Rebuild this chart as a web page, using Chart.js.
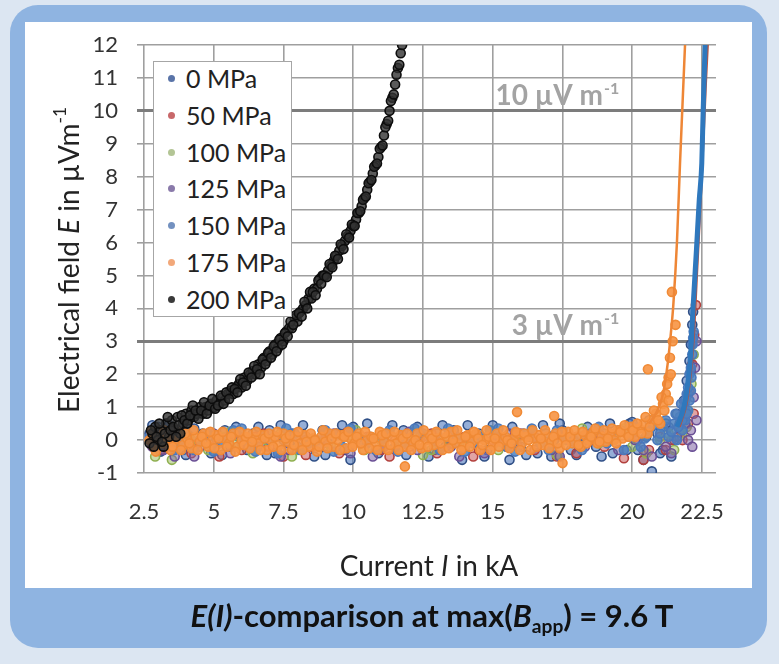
<!DOCTYPE html>
<html><head><meta charset="utf-8">
<script src="https://cdn.jsdelivr.net/npm/chart.js@4.4.1/dist/chart.umd.min.js"></script>
<style>
html,body{margin:0;padding:0;}
body{width:779px;height:664px;background:#dce6f2;position:relative;overflow:hidden;font-family:Lato,'Open Sans',sans-serif;}
#frame{position:absolute;left:10px;top:5px;width:757px;height:643px;background:#8fb4e1;border-radius:28px;}
#panel{position:absolute;left:25px;top:22px;width:727px;height:566px;background:#fff;}
#chart{position:absolute;left:0;top:0;}
#ytitle{position:absolute;left:68px;top:260px;transform:translate(-50%,-50%) rotate(-90deg);white-space:nowrap;font-size:28px;color:#222;}
#xtitle{position:absolute;left:429px;top:565px;transform:translate(-50%,-50%);white-space:nowrap;font-size:28px;color:#222;}
#caption{position:absolute;left:432px;top:615px;transform:translate(-50%,-50%);white-space:nowrap;font-size:31px;font-weight:bold;color:#111;}
#legend{position:absolute;left:153px;top:61px;width:139px;height:256px;background:#fff;border:1px solid #a6a6a6;box-sizing:border-box;}
.item{position:absolute;left:0;height:30px;line-height:30px;font-size:25px;color:#222;white-space:nowrap;}
.dot{position:absolute;left:14px;top:12px;width:7px;height:7px;border-radius:50%;}
.lbl{position:absolute;left:32px;top:0;}
sup,sub{font-size:0.62em;line-height:0;}
sup{vertical-align:0.75em;}
sub{vertical-align:-0.3em;}
</style></head>
<body>
<div id="frame"></div>
<div id="panel"></div>
<canvas id="chart" width="779" height="664"></canvas>
<div id="legend"></div>
<div id="ytitle">Electrical field <i>E</i> in µVm<sup>-1</sup></div>
<div id="xtitle">Current <i>I</i> in kA</div>
<div id="caption"><i>E(I)</i>-comparison at max(<i>B</i><sub>app</sub>) = 9.6 T</div>
<script>
// ---- data ----
const seriesNames = ['0 MPa','50 MPa','100 MPa','125 MPa','150 MPa','175 MPa','200 MPa'];
const xTicks = [2.5,5,7.5,10,12.5,15,17.5,20,22.5];
const refLevels = [10, 3];
const refLabels = ['10 µV m', '3 µV m'];

const s0MPa = [[2.7,0.2],[2.9,-0.1],[3.0,0.4],[3.2,0.1],[3.3,0.5],[3.5,-0.2],[3.7,0.3],[3.9,-0.3],[4.1,0.1],[4.4,-0.1],[4.6,0.2],[4.9,-0.4],[5.1,0.0],[5.4,0.3],[5.6,-0.2],[5.9,0.1],[6.2,-0.3],[6.4,0.2],[6.7,-0.1],[7.0,0.3],[7.2,-0.4],[7.5,0.0],[7.8,0.2],[8.0,-0.2],[8.3,0.1],[8.6,-0.5],[8.9,0.3],[9.1,-0.1],[9.4,0.2],[9.7,-0.3],[10.0,0.4],[10.3,-0.1],[10.6,0.1],[10.9,-0.4],[11.2,0.2],[11.5,-0.2],[11.8,0.3],[12.1,-0.1],[12.4,0.1],[12.7,-0.5],[13.0,0.2],[13.3,-0.2],[13.6,0.3],[13.9,-0.6],[14.2,0.0],[14.5,0.2],[14.8,-0.3],[15.1,0.1],[15.4,-0.1],[15.7,0.4],[16.0,-0.2],[16.3,0.1],[16.6,-0.4],[16.9,0.2],[17.2,0.0],[17.5,0.3],[17.8,-0.3],[18.1,0.1],[18.4,0.4],[18.7,-0.2],[19.0,0.2],[19.3,-0.4],[19.6,0.3],[19.9,0.5],[20.2,-0.3],[20.5,0.1],[20.7,-0.95],[20.9,0.2],[21.1,-0.3],[21.3,0.4],[21.5,0.0],[21.7,0.5],[21.85,1.2],[21.95,1.8],[22.05,2.4],[22.1,2.9],[22.15,3.5],[22.18,3.9],
  [2.8,0.45],[3.1,-0.35],[3.4,0.45],[3.6,0.15],[4.0,-0.45],[4.3,0.35],[4.8,0.1],[5.3,-0.45],[5.8,0.4],[6.0,-0.1],[6.6,0.4],[6.9,-0.45],[7.4,0.45],[7.7,-0.1],[8.2,0.45],[8.5,0.0],[9.0,-0.45],[9.6,0.45],[9.9,-0.6],[10.5,0.5],[11.0,0.0],[11.4,0.45],[11.9,-0.45],[12.3,0.4],[12.9,-0.3],[13.2,0.45],[13.8,-0.1],[14.1,0.45],[14.7,-0.5],[15.0,0.45],[15.6,-0.6],[15.9,0.1],[16.2,-0.45],[16.8,0.45],[17.1,-0.5],[17.4,0.5],[18.0,-0.45],[18.3,0.0],[18.9,-0.5],[19.2,0.5],[19.8,-0.3],[20.0,0.55],[20.4,-0.6],[20.6,0.6],[21.0,-0.4],[21.2,0.5],[21.4,-0.5],[21.6,0.8],[21.75,0.3],[21.9,0.9],[22.0,1.4],[22.1,2.1]];
const s50MPa = [[2.8,0.0],[3.1,-0.3],[3.4,0.2],[3.8,-0.1],[4.2,-0.4],[4.6,0.1],[5.0,-0.2],[5.5,0.0],[6.0,-0.3],[6.5,0.1],[7.0,-0.2],[7.5,-0.5],[8.0,0.1],[8.5,-0.2],[9.0,0.0],[9.5,-0.4],[10.0,-0.1],[10.5,0.1],[11.0,-0.3],[11.5,0.0],[12.0,-0.2],[12.5,0.1],[13.0,-0.4],[13.5,-0.1],[14.0,0.1],[14.5,-0.3],[15.0,0.0],[15.5,-0.2],[16.0,0.2],[16.5,-0.3],[17.0,-0.1],[17.5,0.1],[18.0,-0.4],[18.5,0.0],[19.0,-0.2],[19.7,-0.55],[20.2,0.0],[20.6,-0.3],[21.0,0.1],[21.4,0.0],[21.7,0.3],[21.9,0.8],[22.05,1.5],[22.15,2.3],[22.22,3.2],[22.28,4.1],
  [3.6,0.3],[5.2,-0.5],[6.8,0.2],[8.3,-0.45],[9.8,0.25],[11.3,-0.5],[12.8,0.2],[14.3,-0.5],[15.8,0.2],[17.3,-0.5],[18.8,0.2],[20.4,-0.6],[21.2,-0.3],[21.8,0.0],[22.0,0.5],[22.2,0.8]];
const s100MPa = [[2.9,-0.5],[3.3,0.1],[3.7,-0.2],[4.2,0.0],[4.8,-0.3],[5.3,0.1],[5.8,-0.1],[6.4,-0.4],[6.9,0.0],[7.4,0.2],[8.0,-0.3],[8.6,0.0],[9.2,-0.2],[9.8,0.1],[10.4,-0.3],[11.0,0.0],[11.6,-0.1],[12.2,0.2],[12.8,-0.3],[13.4,0.0],[14.0,-0.2],[14.6,0.1],[15.2,-0.3],[15.8,0.0],[16.4,0.3],[17.0,-0.2],[17.6,0.0],[18.2,0.35],[18.8,-0.1],[19.4,0.1],[20.0,-0.2],[20.5,-0.4],[21.0,0.0],[21.5,-0.3],[21.8,0.2],[22.0,0.9],[22.12,1.7],[22.2,2.6],
  [3.5,-0.6],[5.6,0.25],[7.8,-0.5],[10.1,0.3],[12.5,-0.45],[14.9,0.3],[17.3,-0.45],[19.7,0.35],[21.3,0.2],[21.95,0.4]];
const s125MPa = [[2.8,-0.2],[3.2,-0.3],[3.6,-0.5],[4.0,0.1],[4.5,-0.2],[5.0,0.2],[5.6,-0.4],[6.1,0.0],[6.6,-0.2],[7.2,0.1],[7.7,-0.3],[8.3,0.0],[8.8,-0.2],[9.3,0.2],[9.9,-0.4],[10.5,0.0],[11.1,-0.2],[11.7,0.1],[12.3,-0.3],[12.9,0.0],[13.5,-0.2],[14.1,0.1],[14.7,-0.4],[15.3,0.0],[15.9,-0.2],[16.5,0.1],[17.1,-0.3],[17.7,0.0],[18.3,-0.2],[18.9,0.1],[19.5,-0.3],[20.1,0.0],[20.7,-0.5],[21.2,-0.2],[21.6,0.1],[21.9,0.5],[22.1,0.3],[22.2,1.3],[22.25,2.2],[22.3,3.0],
  [3.0,0.0],[4.3,-0.5],[5.8,0.2],[7.4,-0.5],[9.0,0.2],[10.7,-0.5],[12.0,0.25],[13.8,-0.5],[15.6,0.2],[17.4,-0.5],[19.2,0.2],[20.4,-0.3],[21.4,-0.4],[22.0,0.0],[22.15,-0.2],[22.3,0.6]];
const s150MPa = [[2.7,0.1],[3.0,-0.2],[3.4,0.3],[3.8,0.0],[4.3,-0.3],[4.8,0.2],[5.2,-0.1],[5.7,0.3],[6.3,-0.2],[6.8,0.1],[7.3,-0.4],[7.9,0.2],[8.4,-0.1],[9.0,0.3],[9.6,-0.2],[10.2,0.1],[10.8,-0.3],[11.3,0.3],[11.9,-0.1],[12.5,0.2],[13.1,-0.3],[13.7,0.1],[14.3,-0.1],[14.9,0.3],[15.5,-0.2],[16.1,0.2],[16.7,-0.1],[17.3,0.3],[17.9,0.0],[18.5,0.2],[19.1,-0.1],[19.5,0.3],[19.9,0.1],[20.3,-0.2],[20.6,0.3],[20.9,0.0],[21.1,0.4],[21.3,0.1],[21.5,0.5],[21.6,0.0],[21.7,0.7],[21.8,0.3],[21.85,1.0],[21.9,0.6],[21.95,1.4],[22.0,0.9],[22.05,2.0],[22.1,1.5],[22.15,2.6],[22.2,3.3],
  [3.2,0.0],[3.6,-0.3],[4.0,0.35],[4.5,0.0],[5.0,-0.35],[5.5,0.1],[6.0,0.35],[6.5,-0.35],[7.0,0.0],[7.6,0.35],[8.1,-0.3],[8.7,0.0],[9.3,-0.35],[9.9,0.35],[10.5,-0.1],[11.1,0.05],[11.6,-0.35],[12.2,0.35],[12.8,0.0],[13.4,0.35],[14.0,-0.35],[14.6,0.1],[15.2,0.35],[15.8,-0.35],[16.4,0.35],[17.0,-0.3],[17.6,0.1],[18.2,-0.3],[18.8,0.4],[19.3,0.0],[19.7,-0.3],[20.1,0.4],[20.45,0.05],[20.75,0.45],[21.0,0.2],[21.2,0.6],[21.4,0.25],[21.55,0.8],[21.65,0.4],[21.75,1.1],[21.8,0.6],[21.9,1.2],[21.95,0.8],[22.0,1.6],[22.05,1.2],[22.1,2.2],[22.12,1.9],[22.16,2.9],[22.18,3.1]];
const s175MPa = [[2.7,0.0],[2.85,-0.2],[3.0,0.1],[3.15,-0.1],[3.3,0.2],[3.45,-0.3],[3.6,0.0],[3.75,0.15],[3.9,-0.15],[4.05,0.05],[4.2,-0.25],[4.35,0.1],[4.5,-0.05],[4.65,0.2],[4.8,-0.2],[4.95,0.0],[5.1,0.15],[5.25,-0.3],[5.4,0.05],[5.55,-0.1],[5.7,0.2],[5.85,-0.2],[6.0,0.0],[6.15,0.1],[6.3,-0.25],[6.45,0.05],[6.6,-0.1],[6.75,0.15],[6.9,-0.3],[7.05,0.0],[7.2,0.1],[7.35,-0.15],[7.5,0.2],[7.65,-0.05],[7.8,-0.3],[7.95,0.1],[8.1,-0.1],[8.25,0.15],[8.4,-0.2],[8.55,0.05],[8.7,-0.35],[8.85,0.1],[9.0,-0.05],[9.15,0.2],[9.3,-0.2],[9.45,0.0],[9.6,0.15],[9.75,-0.25],[9.9,0.05],[10.05,-0.1],[10.2,0.2],[10.35,-0.3],[10.5,0.0],[10.65,0.1],[10.8,-0.15],[10.95,0.25],[11.1,-0.05],[11.25,-0.3],[11.4,0.1],[11.55,-0.1],[11.7,0.15],[11.85,-0.2],[11.85,-0.8],[12.0,0.05],[12.15,-0.1],[12.3,0.2],[12.45,-0.25],[12.6,0.0],[12.75,0.15],[12.9,-0.15],[13.05,0.05],[13.2,-0.3],[13.35,0.1],[13.5,0.25],[13.65,-0.1],[13.8,0.05],[13.95,-0.2],[14.1,0.15],[14.25,-0.05],[14.4,0.2],[14.55,-0.3],[14.7,0.0],[14.85,0.1],[15.0,-0.15],[15.15,0.2],[15.3,-0.05],[15.45,0.1],[15.6,-0.25],[15.75,0.05],[15.87,0.85],[15.9,0.2],[16.05,-0.1],[16.2,0.1],[16.35,-0.3],[16.5,0.05],[16.65,0.15],[16.8,-0.15],[16.95,0.1],[17.1,-0.05],[17.2,0.73],[17.25,0.2],[17.4,-0.25],[17.5,-0.7],[17.55,0.05],[17.7,0.25],[17.85,-0.1],[18.0,0.1],[18.15,-0.2],[18.3,0.15],[18.45,0.0],[18.6,0.25],[18.75,-0.1],[18.9,0.1],[19.05,-0.05],[19.2,0.2],[19.35,0.0],[19.5,0.3],[19.65,0.05],[19.8,0.2],[19.95,0.4],[20.1,0.1],[20.25,0.35],[20.4,0.5],[20.55,0.2],[20.56,2.15],[20.7,0.6],[20.85,0.8],[21.0,0.5],[21.1,1.1],[21.2,1.4],[21.3,1.9],[21.35,2.5],[21.45,3.0],[21.55,3.5],[21.42,4.5],
  [2.775,0.25],[2.925,-0.35],[3.075,-0.05],[3.225,0.3],[3.375,0.05],[3.525,-0.2],[3.675,0.25],[3.825,-0.3],[3.975,0.2],[4.125,-0.1],[4.275,0.3],[4.425,-0.3],[4.575,0.1],[4.725,-0.1],[4.875,0.25],[5.025,-0.25],[5.175,0.05],[5.325,0.25],[5.475,-0.2],[5.625,0.1],[5.775,-0.35],[5.925,0.25],[6.075,-0.15],[6.225,0.2],[6.375,-0.05],[6.525,0.25],[6.675,-0.3],[6.825,0.05],[6.975,0.2],[7.125,-0.2],[7.275,0.25],[7.425,-0.3],[7.575,0.05],[7.725,0.15],[7.875,-0.15],[8.025,0.25],[8.175,-0.3],[8.325,-0.05],[8.475,0.2],[8.625,0.0],[8.775,-0.2],[8.925,0.3],[9.075,-0.25],[9.225,0.05],[9.375,0.2],[9.525,-0.3],[9.675,0.1],[9.825,0.25],[9.975,-0.2],[10.125,0.1],[10.275,-0.1],[10.425,0.25],[10.575,-0.25],[10.725,0.05],[10.875,-0.3],[11.025,0.15],[11.175,0.2],[11.325,-0.15],[11.475,0.25],[11.625,-0.3],[11.775,0.05],[11.925,0.2],[12.075,-0.3],[12.225,0.0],[12.375,-0.15],[12.525,0.3],[12.675,-0.2],[12.825,0.05],[12.975,0.25],[13.125,-0.1],[13.275,0.2],[13.425,-0.25],[13.575,0.0],[13.725,0.3],[13.875,-0.3],[14.025,0.1],[14.175,-0.2],[14.325,0.25],[14.475,0.05],[14.625,-0.15],[14.775,0.3],[14.925,-0.3],[15.075,0.05],[15.225,-0.2],[15.375,0.3],[15.525,0.0],[15.675,-0.1],[15.825,0.25],[15.975,-0.3],[16.125,0.2],[16.275,0.0],[16.425,0.3],[16.575,-0.2],[16.725,0.05],[16.875,0.3],[17.025,-0.25],[17.175,0.1],[17.325,-0.1],[17.475,0.25],[17.625,-0.15],[17.775,0.1],[17.925,0.3],[18.075,-0.15],[18.225,0.25],[18.375,-0.1],[18.525,0.1],[18.675,0.35],[18.825,-0.05],[18.975,0.3],[19.125,0.05],[19.275,0.35],[19.425,-0.1],[19.575,0.25],[19.725,0.45],[19.875,0.1],[20.025,0.3],[20.175,0.5],[20.325,0.2],[20.475,0.7],[20.625,0.4],[20.775,0.9],[20.925,0.6],[21.05,1.3],[21.15,0.9],[21.25,1.7],[21.3,1.2],[21.38,2.0]];
const s200MPa = [[2.7,-0.1],[2.8,0.2],[2.9,0.4],[3.0,0.0],[3.1,0.3],[3.2,-0.2],[3.3,0.5],[3.4,0.1],[3.5,0.6],[3.6,0.3],[3.7,0.7],[3.8,0.2],[3.9,0.5],[4.0,0.8],[4.1,0.6],[4.2,0.9],[4.3,0.7],[4.4,0.8],[4.5,1.0],[4.6,0.8],[4.7,1.0],[4.8,0.9],[4.9,1.1],[5.0,1.0],[5.1,1.2],[5.2,1.1],[5.3,1.3],[5.4,1.2],[5.5,1.4],[5.6,1.5],[5.7,1.4],[5.8,1.6],[5.9,1.7],[6.0,1.6],[6.1,1.9],[6.2,1.8],[6.3,2.0],[6.4,2.1],[6.5,2.0],[6.6,2.3],[6.7,2.2],[6.8,2.5],[6.9,2.4],[7.0,2.7],[7.1,2.6],[7.2,2.9],[7.3,2.8],[7.4,3.1],[7.5,3.0],[7.6,3.3],[7.7,3.4],[7.8,3.4],[7.9,3.7],[8.0,3.6],[8.1,3.9],[8.2,4.0],[8.3,4.1],[8.4,4.3],[8.5,4.3],[8.6,4.6],[8.7,4.6],[8.8,4.9],[8.9,5.0],[9.0,5.0],[9.1,5.15],[9.2,5.3],[9.3,5.45],[9.4,5.6],[9.5,5.75],[9.6,5.9],[9.7,6.05],[9.8,6.2],[9.9,6.35],[10.0,6.5],[10.1,6.7],[10.2,6.9],[10.3,7.1],[10.4,7.35],[10.5,7.6],[10.6,7.85],[10.7,8.1],[10.8,8.35],[10.9,8.6],[11.0,8.9],[11.1,9.25],[11.2,9.6],[11.3,10.0],[11.4,10.4],[11.5,10.8],[11.6,11.3],[11.7,11.75],[11.75,12.0],
  [2.75,0.3],[2.85,-0.2],[2.95,0.1],[3.05,0.5],[3.15,-0.05],[3.25,0.2],[3.35,0.7],[3.45,0.3],[3.55,0.4],[3.65,0.1],[3.75,0.45],[3.85,0.75],[3.95,0.6],[4.05,0.5],[4.15,0.75],[4.25,1.05],[4.35,0.9],[4.45,0.65],[4.55,0.9],[4.65,1.15],[4.75,0.8],[4.85,1.05],[4.95,1.25],[5.05,0.95],[5.15,1.05],[5.25,1.35],[5.35,1.1],[5.45,1.45],[5.55,1.25],[5.65,1.6],[5.75,1.55],[5.85,1.45],[5.95,1.85],[6.05,1.75],[6.15,1.65],[6.25,2.05],[6.35,1.9],[6.45,2.25],[6.55,2.15],[6.65,2.0],[6.75,2.45],[6.85,2.3],[6.95,2.65],[7.05,2.5],[7.15,2.85],[7.25,2.7],[7.35,3.05],[7.45,2.9],[7.55,3.25],[7.65,3.15],[7.75,3.6],[7.85,3.5],[7.95,3.8],[8.05,3.85],[8.15,3.75],[8.25,4.2],[8.35,4.0],[8.45,4.5],[8.55,4.5],[8.65,4.4],[8.75,4.85],[8.85,4.75],[8.95,5.0],[9.05,4.95],[9.15,5.35],[9.25,5.25],[9.35,5.6],[9.45,5.5],[9.55,5.95],[9.65,5.8],[9.75,6.25],[9.85,6.15],[9.95,6.55],[10.05,6.5],[10.15,6.9],[10.25,6.95],[10.35,7.3],[10.45,7.4],[10.55,7.8],[10.65,7.9],[10.75,8.3],[10.85,8.4],[10.95,8.85],[11.05,8.95],[11.15,9.5],[11.25,9.7],[11.35,10.3],[11.45,10.5],[11.55,11.1],[11.65,11.4]];

const fit175MPa = [[20.6,0.5],[20.9,0.9],[21.1,1.4],[21.28,2.4],[21.4,3.4],[21.47,4.1],[21.6,6.0],[21.71,8.4],[21.8,10.2],[21.89,12]];
const fit150MPa = [[21.6,0.4],[21.85,1.0],[22.0,1.8],[22.1,2.7],[22.18,4.06],[22.3,5.8],[22.4,7.3],[22.49,8.4],[22.54,10.0],[22.61,12]];
const fit50MPa = [[21.7,0.4],[21.95,1.1],[22.1,2.0],[22.22,3.3],[22.32,5.0],[22.45,7.2],[22.56,9.2],[22.64,10.8],[22.71,12]];

// ---- styles ----
const pointStyles = [
  {border:'#2f4f86', fill:'rgba(79,120,189,0.6)', legend:'#5a74a8'},
  {border:'#b2403d', fill:'rgba(200,90,90,0.55)', legend:'#c8686a'},
  {border:'#8fb050', fill:'rgba(160,190,100,0.55)', legend:'#b3c595'},
  {border:'#6a4f95', fill:'rgba(128,100,162,0.55)', legend:'#8a7aaa'},
  {border:'#4a78bc', fill:'rgba(79,129,189,0.85)', legend:'#7391c0'},
  {border:'#f08a35', fill:'rgba(247,150,70,0.92)', legend:'#f2a87a'},
  {border:'#0d0d0d', fill:'rgba(50,50,50,0.8)', legend:'#3a3a3a'}
];
const seriesData = [s0MPa, s50MPa, s100MPa, s125MPa, s150MPa, s175MPa, s200MPa];

const toXY = arr => arr.map(p => ({x:p[0], y:p[1]}));

const datasets = seriesData.map((d,i) => ({
  type:'scatter', label: seriesNames[i], data: toXY(d),
  pointRadius: 4.5, pointBorderWidth: 1.6,
  borderColor: pointStyles[i].border, backgroundColor: pointStyles[i].fill,
  order: 10 - i
}));
const fitSets = [
  {data: fit50MPa, color:'#b9533f', width:2},
  {data: fit150MPa, color:'#2f78bd', width:5},
  {data: fit175MPa, color:'#ee8636', width:2.5}
];
fitSets.forEach((f,k) => datasets.push({
  type:'line', label:'fit'+k, data: toXY(f.data), showLine:true,
  borderColor:f.color, borderWidth:f.width, pointRadius:0, fill:false,
  cubicInterpolationMode:'monotone', order: 5 - k
}));

// legend (HTML)
const legendEl = document.getElementById('legend');
seriesNames.forEach((n,i) => {
  const it = document.createElement('div');
  it.className = 'item';
  it.style.top = (1 + i*36.8) + 'px';
  it.innerHTML = '<span class="dot" style="background:'+pointStyles[i].legend+'"></span><span class="lbl">'+n+'</span>';
  legendEl.appendChild(it);
});

const refLabelPlugin = {
  id:'refLabels',
  afterDatasetsDraw(chart){
    const {ctx, scales:{x,y}} = chart;
    ctx.save();
    ctx.fillStyle = '#a3a3a3';
    refLevels.forEach((v,i) => {
      const right = x.getPixelForValue(20) - 13;
      const base = y.getPixelForValue(v) - 6;
      ctx.font = 'bold 16px Lato';
      const sw = ctx.measureText('-1').width;
      ctx.font = 'bold 28px Lato';
      const w = ctx.measureText(refLabels[i]).width;
      const left = right - sw - w - 1;
      ctx.textAlign = 'left';
      ctx.textBaseline = 'alphabetic';
      ctx.fillText(refLabels[i], left, base);
      ctx.font = 'bold 16px Lato';
      ctx.fillText('-1', left + w + 1, base - 11);
    });
    ctx.restore();
  }
};

new Chart(document.getElementById('chart'), {
  type:'scatter',
  data:{datasets},
  plugins:[refLabelPlugin],
  options:{
    responsive:false, animation:false, devicePixelRatio:1,
    layout:{padding:{left:80, top:45, right:63, bottom:141}},
    plugins:{legend:{display:false}, tooltip:{enabled:false}},
    scales:{
      x:{type:'linear', min:2.5, max:23,
        afterFit(s){ s.height = 50; },
        afterBuildTicks(s){ s.ticks = xTicks.map(v => ({value:v})); },
        ticks:{stepSize:2.5, includeBounds:false, padding:26, color:'#333', font:{family:'Lato', size:22}, maxRotation:0,
          callback:v => String(v)},
        grid:{color:'#9f9f9f', lineWidth:1.6, drawTicks:false},
        border:{display:false}
      },
      y:{type:'linear', min:-1, max:12,
        afterFit(s){ s.width = 64; },
        ticks:{stepSize:1, padding:19, color:'#333', font:{family:'Lato', size:22}},
        grid:{
          color: c => (refLevels.includes(c.tick && c.tick.value) ? '#7c7c7c' : '#9f9f9f'),
          lineWidth: c => (refLevels.includes(c.tick && c.tick.value) ? 3 : 1.6),
          drawTicks:true, tickLength:7
        },
        border:{display:false}
      }
    }
  }
});
</script>
</body></html>
